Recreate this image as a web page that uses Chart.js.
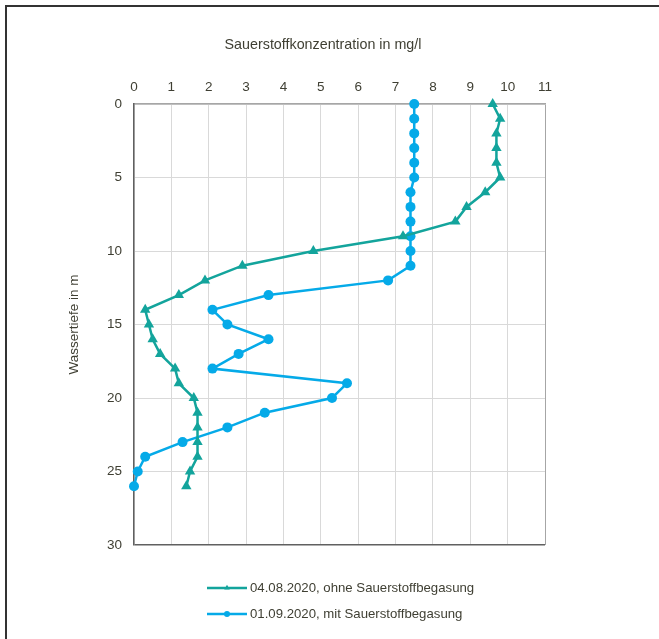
<!DOCTYPE html>
<html>
<head>
<meta charset="utf-8">
<script src="https://cdn.jsdelivr.net/npm/chart.js@4.4.1/dist/chart.umd.min.js"></script>
<style>
  html, body { margin: 0; padding: 0; background: #fff; }
  #wrap { position: relative; width: 659px; height: 639px; overflow: hidden; }
  #frame { position: absolute; left: 5px; top: 5px; right: -10px; bottom: -10px; border-top: 2px solid #333; border-left: 2px solid #333; pointer-events: none; }
  canvas { position: absolute; left: 0; top: 0; }
</style>
</head>
<body>
<div id="wrap">
  <canvas id="c" width="659" height="639"></canvas>
  <div id="frame"></div>
</div>
<script>
// ---- data ----
const depths = [0,1,2,3,4,5,6,7,8,9,10,11,12,13,14,15,16,17,18,19,20,21,22,23,24,25,26];
const oxygenAug = [9.6,9.8,9.7,9.7,9.7,9.8,9.4,8.9,8.6,7.2,4.8,2.9,1.9,1.2,0.3,0.4,0.5,0.7,1.1,1.2,1.6,1.7,1.7,1.7,1.7,1.5,1.4];
const oxygenSep = [7.5,7.5,7.5,7.5,7.5,7.5,7.4,7.4,7.4,7.4,7.4,7.4,6.8,3.6,2.1,2.5,3.6,2.8,2.1,5.7,5.3,3.5,2.5,1.3,0.3,0.1,0.0];
const seriesLabels = ['04.08.2020, ohne Sauerstoffbegasung', '01.09.2020, mit Sauerstoffbegasung'];
const xTitle = 'Sauerstoffkonzentration in mg/l';
const yTitle = 'Wassertiefe in m';

const TEAL = '#13a49c';
const BLUE = '#05aae8';
const TXT = '#3f3f33';
const FONT = "'Liberation Sans', Arial, sans-serif";

Chart.defaults.font.family = FONT;
Chart.defaults.color = TXT;

const toPts = (vals) => vals.map((v, i) => ({ x: v, y: depths[i] }));

const extras = {
  id: 'extras',
  afterDraw(chart) {
    const ctx = chart.ctx;
    ctx.save();
    // top axis title
    ctx.fillStyle = TXT;
    ctx.font = '14.3px ' + FONT;
    ctx.textAlign = 'center';
    ctx.textBaseline = 'middle';
    ctx.fillText(xTitle, 323, 45);
    // legend
    ctx.font = '13.2px ' + FONT;
    ctx.textAlign = 'left';
    const rows = [588, 614];
    chart.data.datasets.forEach((ds, i) => {
      const y = rows[i];
      const x0 = 207, x1 = 247;
      ctx.strokeStyle = ds.borderColor;
      ctx.lineWidth = 2.5;
      ctx.beginPath(); ctx.moveTo(x0, y); ctx.lineTo(x1, y); ctx.stroke();
      ctx.fillStyle = ds.borderColor;
      const cx = (x0 + x1) / 2;
      if (ds.pointStyle === 'triangle') {
        const r = 3.2;
        ctx.beginPath();
        ctx.moveTo(cx, y - r);
        ctx.lineTo(cx + r * 0.866, y + r * 0.5);
        ctx.lineTo(cx - r * 0.866, y + r * 0.5);
        ctx.closePath(); ctx.fill();
      } else {
        ctx.beginPath(); ctx.arc(cx, y, 3, 0, Math.PI * 2); ctx.fill();
      }
      ctx.fillStyle = TXT;
      ctx.fillText(ds.label, 250, y);
    });
    ctx.restore();
  }
};

new Chart(document.getElementById('c'), {
  type: 'scatter',
  data: {
    datasets: [
      {
        label: seriesLabels[0],
        data: toPts(oxygenAug),
        showLine: true,
        clip: false,
        borderColor: TEAL,
        backgroundColor: TEAL,
        borderWidth: 2.5,
        pointStyle: 'triangle',
        pointRadius: 6,
        pointBorderWidth: 0,
        pointBackgroundColor: TEAL,
        tension: 0
      },
      {
        label: seriesLabels[1],
        data: toPts(oxygenSep),
        showLine: true,
        clip: false,
        borderColor: BLUE,
        backgroundColor: BLUE,
        borderWidth: 2.5,
        pointStyle: 'circle',
        pointRadius: 5,
        pointBorderWidth: 0,
        pointBackgroundColor: BLUE,
        tension: 0
      }
    ]
  },
  options: {
    responsive: false,
    animation: false,
    events: [],
    layout: { padding: { left: 60, right: 114, top: 76, bottom: 94 } },
    plugins: { legend: { display: false }, title: { display: false }, tooltip: { enabled: false } },
    scales: {
      x: {
        type: 'linear',
        position: 'top',
        min: 0, max: 11,
        ticks: { stepSize: 1, padding: 9, color: TXT, font: { size: 13.5 } },
        grid: {
          drawTicks: false,
          lineWidth: 1,
          color: (c) => (c.tick && c.tick.value === 11) ? '#a6a6a6' : '#d9d9d9'
        },
        border: { display: true, color: '#a6a6a6', width: 1.5 },
        afterFit: (s) => { s.height = 28; }
      },
      y: {
        type: 'linear',
        reverse: true,
        min: 0, max: 30,
        ticks: { stepSize: 5, padding: 12, color: TXT, font: { size: 13.5 } },
        grid: {
          drawTicks: false,
          lineWidth: (c) => (c.tick && c.tick.value === 30) ? 1.5 : 1,
          color: (c) => (c.tick && c.tick.value === 30) ? '#606060' : '#d9d9d9'
        },
        border: { display: true, color: '#606060', width: 1.5 },
        title: { display: true, text: yTitle, color: TXT, font: { size: 13.5 }, padding: { top: 6, bottom: 0 } },
        afterFit: (s) => { s.width = 74; }
      }
    }
  },
  plugins: [extras]
});
</script>
</body>
</html>
